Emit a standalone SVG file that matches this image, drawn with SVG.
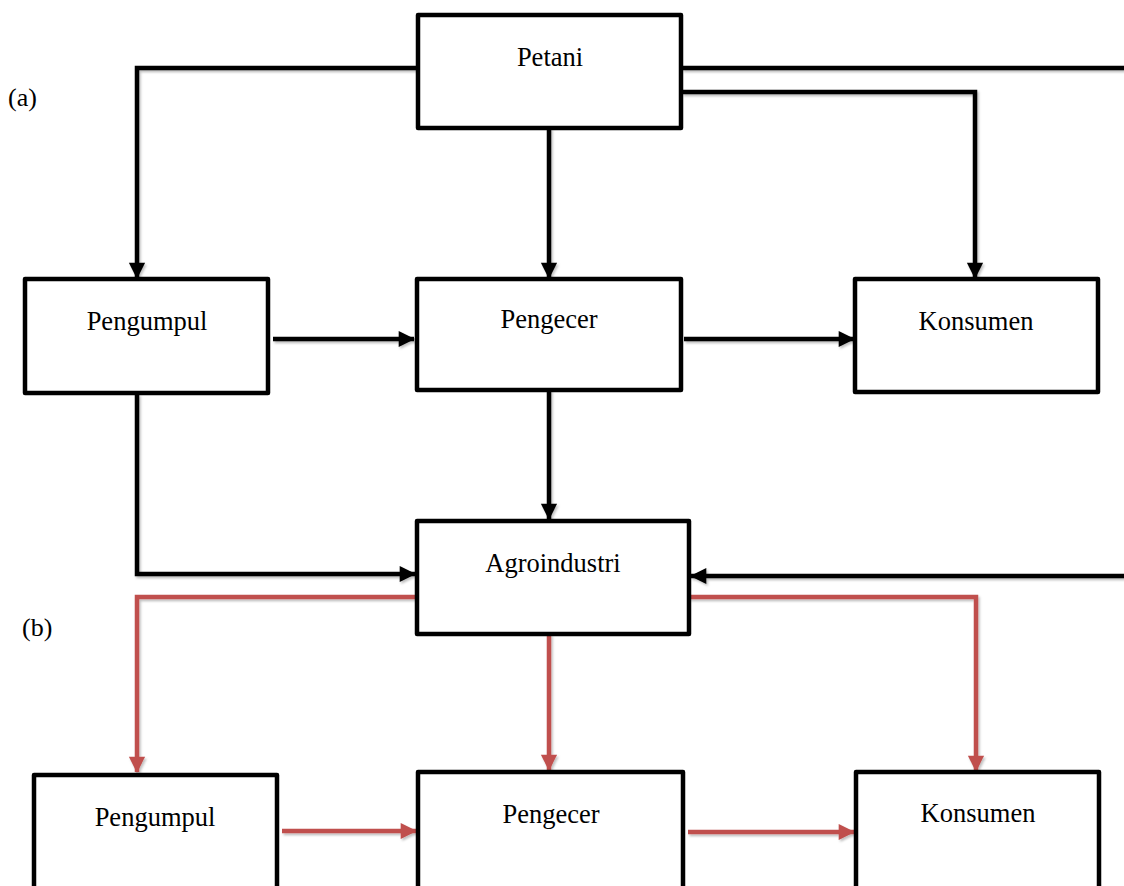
<svg xmlns="http://www.w3.org/2000/svg" width="1124" height="886" viewBox="0 0 1124 886">
<style>
.box{fill:#fff;stroke:#000;stroke-width:4.5;stroke-linejoin:round}
.t{font-family:"Liberation Serif",serif;font-size:26.5px;fill:#000;text-anchor:middle}
.lbl{font-family:"Liberation Serif",serif;font-size:26px;fill:#000}
.k{fill:none;stroke:#000;stroke-width:4.5;stroke-linejoin:miter}
.r{fill:none;stroke:#c0504d;stroke-width:4.5;stroke-linejoin:miter}
</style>
<defs>
<filter id="sh" x="-5%" y="-5%" width="110%" height="110%">
<feDropShadow dx="1.5" dy="2" stdDeviation="1.2" flood-color="#000" flood-opacity="0.25"/>
</filter>
<marker id="ak" markerWidth="4.5" markerHeight="4.5" refX="3.4" refY="2" orient="auto" markerUnits="strokeWidth" overflow="visible"><path d="M0,0.2 L3.6,2 L0,3.8 z" fill="#000"/></marker>
<marker id="ar" markerWidth="4.5" markerHeight="4.5" refX="3.4" refY="2" orient="auto" markerUnits="strokeWidth" overflow="visible"><path d="M0,0.2 L3.6,2 L0,3.8 z" fill="#c0504d"/></marker>
</defs>
<g id="connectors" filter="url(#sh)">
<path class="k" d="M418,68 H137 V278" marker-end="url(#ak)"/>
<path class="k" d="M682,68 H1124"/>
<path class="k" d="M682,92 H975 V278" marker-end="url(#ak)"/>
<path class="k" d="M549,128 V278" marker-end="url(#ak)"/>
<path class="k" d="M273,339 H414" marker-end="url(#ak)"/>
<path class="k" d="M684,339 H854" marker-end="url(#ak)"/>
<path class="k" d="M549,390 V519" marker-end="url(#ak)"/>
<path class="k" d="M137,394 V574 H415" marker-end="url(#ak)"/>
<path class="k" d="M1124,576 H691" marker-end="url(#ak)"/>
<path class="r" d="M417,597 H137 V772" marker-end="url(#ar)"/>
<path class="r" d="M689,597 H976 V771" marker-end="url(#ar)"/>
<path class="r" d="M549,634 V770" marker-end="url(#ar)"/>
<path class="r" d="M282,831 H416" marker-end="url(#ar)"/>
<path class="r" d="M688,832 H854" marker-end="url(#ar)"/>
</g>
<g id="petani"><rect class="box" x="418" y="15" width="263" height="113"/><text class="t" x="550" y="66">Petani</text></g>
<g id="pengumpul-a"><rect class="box" x="25" y="279" width="243" height="114"/><text class="t" x="147" y="330">Pengumpul</text></g>
<g id="pengecer-a"><rect class="box" x="417" y="279" width="264" height="111"/><text class="t" x="549" y="328">Pengecer</text></g>
<g id="konsumen-a"><rect class="box" x="855" y="279" width="243" height="113"/><text class="t" x="976" y="330">Konsumen</text></g>
<g id="agroindustri"><rect class="box" x="417" y="521" width="272" height="113"/><text class="t" x="553" y="572">Agroindustri</text></g>
<g id="pengumpul-b"><rect class="box" x="34" y="775" width="243" height="120"/><text class="t" x="155" y="826">Pengumpul</text></g>
<g id="pengecer-b"><rect class="box" x="418" y="772" width="265" height="120"/><text class="t" x="551" y="823">Pengecer</text></g>
<g id="konsumen-b"><rect class="box" x="856" y="772" width="243" height="120"/><text class="t" x="978" y="822">Konsumen</text></g>
<g id="labels"><text class="lbl" x="8" y="106">(a)</text><text class="lbl" x="22" y="636">(b)</text></g>
</svg>
